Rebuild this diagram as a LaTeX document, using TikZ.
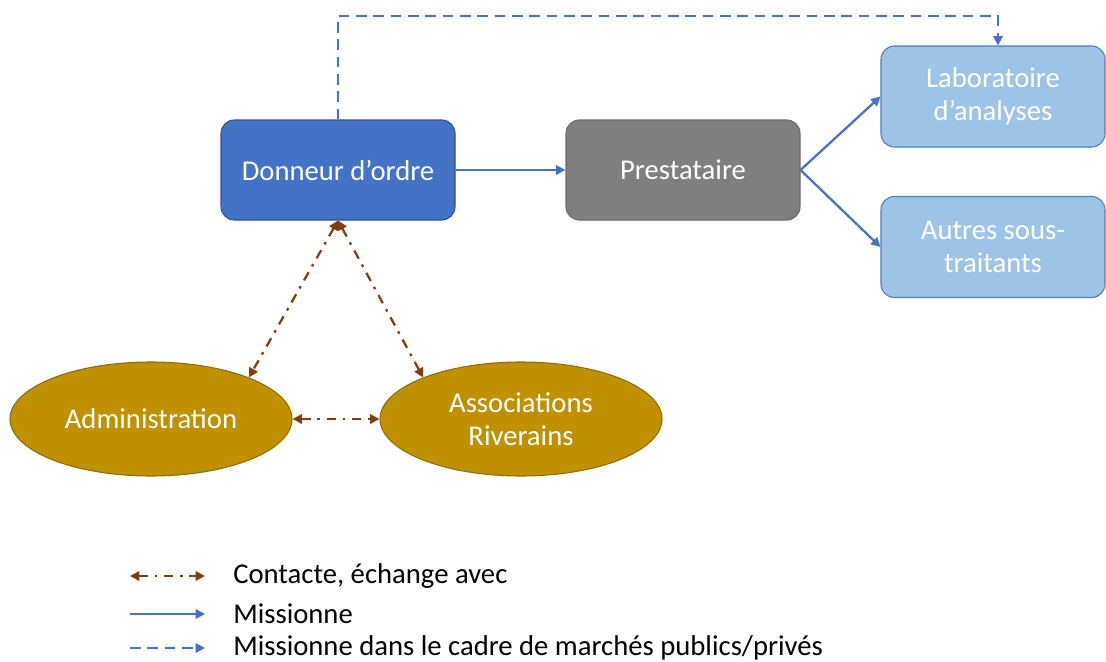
\documentclass[tikz,border=0pt]{standalone}
\usepackage{fontspec}
\setmainfont{Carlito}
\usetikzlibrary{arrows.meta,shapes.geometric}

\definecolor{bleu}{HTML}{4472C4}
\definecolor{bleufonce}{HTML}{2F528F}
\definecolor{bleuclair}{HTML}{9DC3E6}
\definecolor{bleuclairbord}{HTML}{4F7DB5}
\definecolor{gris}{HTML}{7F7F7F}
\definecolor{grisbord}{HTML}{6A6A6A}
\definecolor{or}{HTML}{BF9000}
\definecolor{orbord}{HTML}{8F6C00}
\definecolor{brun}{HTML}{843C0C}

\begin{document}
\begin{tikzpicture}[x=0.75pt,y=-0.75pt,
    boite/.style={rectangle,rounded corners=10pt,text=white,font=\fontsize{21.5}{25}\selectfont,
        align=center,inner sep=0pt,minimum width=175.5pt,minimum height=75pt,line width=0.8pt},
    bulle/.style={ellipse,fill=or,draw=orbord,text=white,font=\fontsize{21.5}{25}\selectfont,
        align=center,inner sep=0pt,minimum width=211.5pt,minimum height=85.5pt,line width=0.8pt},
    mission/.style={draw=bleu,line width=1.7pt,-{Triangle[length=7pt,width=7pt]}},
    marche/.style={mission,dash pattern=on 8pt off 5pt},
    contact/.style={draw=brun,line width=1.7pt,{Triangle[length=7pt,width=7pt]}-{Triangle[length=7pt,width=7pt]},
        dash pattern=on 7pt off 5pt on 2pt off 5pt},
    legende/.style={anchor=west,inner sep=0pt,font=\fontsize{21.5}{25}\selectfont}]
            		\useasboundingbox (0,0) rectangle (1106,661);

            		\node (don) at (338,170) [boite,fill=bleu,draw=bleufonce] {Donneur d’ordre};
            		\node (pre) at (683,170) [boite,fill=gris,draw=grisbord] {Prestataire};
            		\node (lab) at (993,96.5) [boite,fill=bleuclair,draw=bleuclairbord,minimum width=168pt,minimum height=75.75pt] {Laboratoire\\d’analyses};
            		\node (aut) at (993,247) [boite,fill=bleuclair,draw=bleuclairbord,minimum width=168pt,minimum height=75.75pt] {Autres sous-\\traitants};
            		\node (adm) at (151,419) [bulle] {Administration};
            		\node (ass) at (521,419) [bulle] {Associations\\Riverains};
            		\coordinate (haut) at (668,16);

            		\draw[mission] (don) -- (pre);
            		\draw[mission] (pre.east) -- (lab.west);
            		\draw[mission] (pre.east) -- (aut.west);
            		\draw[marche] (don.north) |- (haut) -| ([xshift=3.75pt]lab.north);
            		\draw[contact] (don.south) -- (adm.23);
            		\draw[contact] (don.south) -- (ass.157);
            		\draw[contact] (adm.east) -- (ass.west);

            		% legende
            		\coordinate (c1) at (130,576);
            		\coordinate (c2) at (205,576);
            		\coordinate (m1) at (130,614);
            		\coordinate (m2) at (205,614);
            		\coordinate (p1) at (130,648);
            		\coordinate (p2) at (205,648);
            		\draw[contact] (c1) -- (c2);
            		\draw[mission] (m1) -- (m2);
            		\draw[marche] (p1) -- (p2);
            		\node (tc) at (233,576) [legende] {Contacte, échange avec};
            		\node (tm) at (233,614) [legende] {Missionne};
            		\node (tp) at (233,648) [legende] {Missionne dans le cadre de marchés publics/privés};

        		\end{tikzpicture}
\end{document}
